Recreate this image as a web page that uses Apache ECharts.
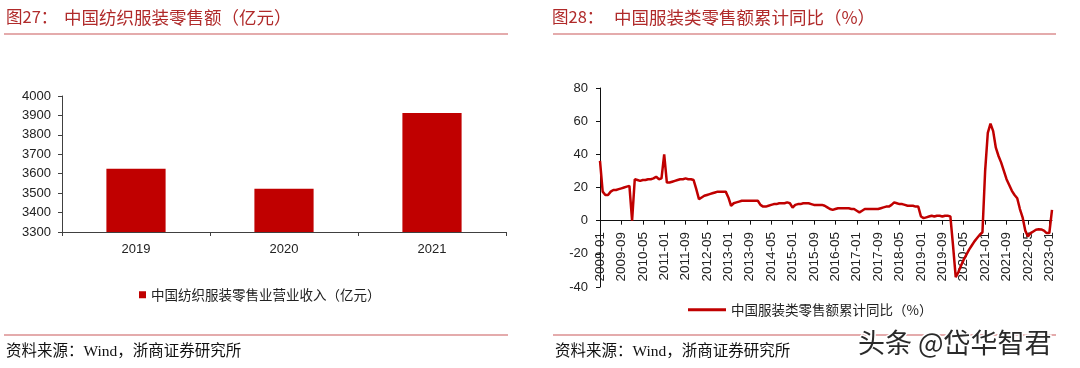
<!DOCTYPE html>
<html>
<head>
<meta charset="utf-8">
<script src="https://cdn.jsdelivr.net/npm/echarts@6/dist/echarts.min.js"></script>
<style>
html,body{margin:0;padding:0;background:#fff;}
#c{width:1080px;height:368px;}
</style>
</head>
<body>
<div id="c"></div>
<script>
// ---- Left chart data ----
const barCategories = ['2019', '2020', '2021'];
const barValues = [3625, 3522, 3913];
const barSeriesName = '中国纺织服装零售业营业收入（亿元）';

// ---- Right chart data (monthly cumulative YoY, %) ----
const y2009 = [36, 17.5, 15.5, 15.5, 17.5, 18.5, 18.5, 19, 19.5, 20, 20.5, 21];
const y2010 = [0, 25, 24.5, 24, 24.5, 24.5, 25, 25, 25.5, 26.5, 25, 25.5];
const y2011 = [40, 23, 23, 23.5, 24, 24.5, 25, 25, 25.5, 25, 25, 24.5];
const y2012 = [19, 13, 14, 15, 15.5, 16, 16.5, 17, 17.5, 17.5, 17.5, 17.5];
const y2013 = [14, 9, 10.5, 11, 11.5, 12, 12, 12, 12, 12, 12, 12];
const y2014 = [9.5, 8.5, 8.5, 9, 9.5, 10, 10, 10.5, 10.5, 10.5, 11, 10.5];
const y2015 = [7.8, 9.5, 10, 10, 10.5, 10.5, 10.5, 10, 9.5, 9.5, 9.5, 9.5];
const y2016 = [9, 8, 7, 6.5, 7, 7.5, 7.5, 7.5, 7.5, 7.5, 7, 7];
const y2017 = [6, 5, 6, 7, 7, 7, 7, 7, 7, 7.5, 8, 8.5];
const y2018 = [8.5, 9.5, 11, 10.5, 10, 10, 9.5, 9, 9, 9, 8.5, 8.5];
const y2019 = [2.5, 1.5, 2, 2.5, 3, 2.5, 3, 3, 2.5, 3, 3, 2.6];
const y2020 = [-15, -34, -31, -27, -23.5, -20.5, -17.5, -15, -12.5, -10.5, -8.5, -7];
const y2021 = [30, 53, 58.5, 54, 44, 39, 35, 30, 25, 21.5, 18, 15.5];
const y2022 = [13.5, 7, 2, -6, -9.5, -7.5, -6.5, -5.5, -5.2, -5.3, -6, -7.5];
const y2023 = [-7.5, 6.5];
const lineSeriesName = '中国服装类零售额累计同比（%）';

const yearlyValues = [y2009, y2010, y2011, y2012, y2013, y2014, y2015, y2016,
  y2017, y2018, y2019, y2020, y2021, y2022, y2023];
const lineValues = [].concat(...yearlyValues);
const monthCategories = [];
yearlyValues.forEach((arr, yi) => {
  arr.forEach((_, mi) => {
    monthCategories.push((2009 + yi) + '-' + String(mi + 1).padStart(2, '0'));
  });
});

// ---- Text ----
const leftTitleNo = '图27：';
const leftTitle = '中国纺织服装零售额（亿元）';
const rightTitleNo = '图28：';
const rightTitle = '中国服装类零售额累计同比（%）';
const sourceText = '资料来源：Wind，浙商证券研究所';
const watermark = '头条 @岱华智君';

const RED = '#c00000';
const TITLE = '#b02a2a';
const RULE = '#c9595a';
const AXIS = '#404040';
const LATIN = '"Liberation Sans", Arial, sans-serif';
const CJK = '"Noto Sans CJK SC", sans-serif';
const SERIFMIX = '"Liberation Serif", "Noto Sans CJK SC", serif';

const chart = echarts.init(document.getElementById('c'), null, {renderer: 'canvas'});

function ruleLine(x1, x2, y, color) {
  return {type: 'line', shape: {x1: x1, y1: y, x2: x2, y2: y},
    style: {stroke: color, lineWidth: 1.2}, silent: true};
}
function txt(x, y, s, size, color, family) {
  return {type: 'text', x: x, y: y, silent: true,
    style: {text: s, fontSize: size, fill: color, fontFamily: family,
      textVerticalAlign: 'middle', verticalAlign: 'middle'}};
}

chart.setOption({
  animation: false,
  backgroundColor: '#fff',
  grid: [
    {left: 62, top: 96, width: 444, height: 136},
    {left: 600, top: 88, width: 452, height: 199}
  ],
  xAxis: [
    {
      type: 'category', gridIndex: 0, data: barCategories,
      axisLine: {lineStyle: {color: AXIS, width: 1}},
      axisTick: {show: true, length: 4, lineStyle: {color: AXIS}},
      axisLabel: {color: '#222', fontSize: 13, fontFamily: LATIN, margin: 11}
    },
    {
      // zero line with ticks
      type: 'category', gridIndex: 1, data: monthCategories, boundaryGap: false,
      axisLine: {onZero: true, lineStyle: {color: '#111', width: 1}},
      axisTick: {show: true, interval: 7, length: 4, lineStyle: {color: '#111'}},
      axisLabel: {show: false}
    },
    {
      // labels, placed just under the zero line
      type: 'category', gridIndex: 1, data: monthCategories, boundaryGap: false,
      position: 'bottom',
      axisLine: {show: false, onZero: false},
      axisTick: {show: false},
      axisLabel: {interval: 7, rotate: 90, color: '#222', fontSize: 13.5, fontFamily: LATIN, margin: -55}
    }
  ],
  yAxis: [
    {
      type: 'value', gridIndex: 0, min: 3300, max: 4000, interval: 100,
      splitLine: {show: false},
      axisLine: {show: true, lineStyle: {color: AXIS, width: 1}},
      axisTick: {show: true, length: 4, lineStyle: {color: AXIS}},
      axisLabel: {color: '#222', fontSize: 13, fontFamily: LATIN, margin: 11,
        formatter: v => String(v)}
    },
    {
      type: 'value', gridIndex: 1, min: -40, max: 80, interval: 20,
      splitLine: {show: false},
      axisLine: {show: true, lineStyle: {color: '#111', width: 1}},
      axisTick: {show: true, length: 4, lineStyle: {color: '#111'}},
      axisLabel: {color: '#222', fontSize: 13, fontFamily: LATIN, margin: 12}
    }
  ],
  legend: [
    {
      data: [barSeriesName], left: 134, top: 283, icon: 'rect',
      itemWidth: 7, itemHeight: 7, itemGap: 4,
      textStyle: {fontSize: 13.5, color: '#222', fontFamily: CJK}
    },
    {
      data: [lineSeriesName], left: 683, top: 298, icon: 'rect',
      itemWidth: 38, itemHeight: 3,
      textStyle: {fontSize: 13.5, color: '#222', fontFamily: CJK}
    }
  ],
  series: [
    {
      name: barSeriesName, type: 'bar', xAxisIndex: 0, yAxisIndex: 0,
      data: barValues, barWidth: '40%',
      itemStyle: {color: RED}
    },
    {
      name: lineSeriesName, type: 'line', xAxisIndex: 1, yAxisIndex: 1,
      data: lineValues, symbol: 'none', showSymbol: false,
      lineStyle: {color: RED, width: 2.5}, itemStyle: {color: RED}
    }
  ],
  graphic: [
    txt(6, 17, leftTitleNo, 16.5, TITLE, CJK),
    txt(64, 17, leftTitle, 17.5, TITLE, CJK),
    ruleLine(4, 508, 34, RULE),
    txt(552, 17, rightTitleNo, 16.5, TITLE, CJK),
    txt(614, 17, rightTitle, 17.5, TITLE, CJK),
    ruleLine(553, 1056, 34, RULE),
    ruleLine(4, 508, 335, RULE),
    ruleLine(553, 1056, 335, RULE),
    txt(6, 352, sourceText, 15.5, '#111', SERIFMIX),
    txt(555, 352, sourceText, 15.5, '#111', SERIFMIX),
    {
      type: 'text', x: 858, y: 343, silent: true, z: 100,
      style: {text: watermark, fontSize: 27, fill: '#2a2a2a', fontFamily: CJK,
        stroke: '#ffffff', lineWidth: 3, verticalAlign: 'middle', textVerticalAlign: 'middle'}
    }
  ]
});
</script>
</body>
</html>
